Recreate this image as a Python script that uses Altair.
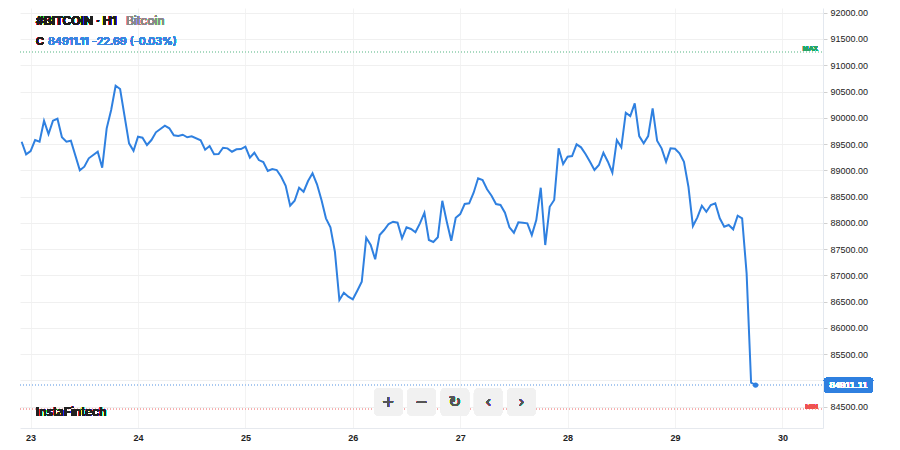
import altair as alt
import pandas as pd

# hours since Jan 23 00:00 (hourly closes) and prices
hours = [-2, -1, 0, 1, 2, 3, 4, 5, 6, 7, 8, 9, 11, 12, 13, 15, 16, 17, 18, 19, 20,
         22, 23, 24, 25, 26, 27, 28, 30, 31, 32, 33, 34, 35, 36, 38, 39, 40, 41,
         42, 43, 44, 45, 46, 47, 48, 49, 50, 51, 52, 53, 54, 55, 56, 57, 58, 59,
         60, 61, 62, 63, 64, 65, 66, 67, 68, 69, 70, 71, 72, 73, 74, 75, 76, 77,
         78, 79, 80, 81, 82, 83, 84, 85, 86, 87, 88, 89, 90, 91, 92, 93, 94, 95,
         96, 97, 98, 99, 100, 101, 102, 103, 104, 105, 106, 107, 108, 109, 110,
         111, 112, 113, 114, 115, 116, 117, 118, 119, 120, 121, 122, 123, 124,
         125, 126, 127, 128, 129, 130, 131, 132, 133, 134, 135, 136, 137, 138,
         139, 140, 141, 142, 143, 144, 145, 146, 147, 148, 149, 150, 151, 152,
         153, 154, 155, 156, 157, 158, 159, 160, 161, 162]
prices = [89544, 89304, 89367, 89576, 89544, 89944, 89690, 89944, 89982, 89628, 89544, 89563,
          88999, 89068, 89228, 89353, 89049, 89799, 90147, 90610, 90547,
          89513, 89372, 89639, 89620, 89481, 89576, 89723, 89848, 89799, 89666, 89652,
          89677, 89628, 89647, 89570, 89392, 89462, 89304,
          89310, 89430, 89418, 89353, 89399, 89405, 89449, 89239, 89334, 89195, 89157,
          88986, 89024, 89005, 88877, 88706, 88325, 88420,
          88668, 88592, 88796, 88942, 88733, 88434, 88085, 87914, 87449, 86530, 86669,
          86593, 86543, 86707, 86878, 87716, 87577, 87305,
          87767, 87863, 87977, 88021, 88002, 87705, 87914, 87882, 87819, 87990, 88192,
          87672, 87634, 87724, 88420, 88021, 87659, 88097,
          88167, 88358, 88371, 88573, 88847, 88815, 88638, 88516, 88358, 88339, 88192,
          87914, 87811, 88009, 88002,
          87990, 87767, 88053, 88668, 87577, 88306, 88434, 89418, 89119, 89258, 89272,
          89494, 89437, 89310,
          89163, 89005, 89100, 89334, 89163, 88954, 89576, 89437, 90096, 90033, 90275,
          89652, 89513, 89652,
          90180, 89563, 89418, 89163, 89418, 89411, 89323, 89163, 88687, 87939, 88104,
          88325, 88211, 88339,
          88371, 88085, 87925, 87958, 87876, 88135, 88085, 87038, 84955, 84911.11]

day_ticks = [0, 24, 48, 72, 96, 120, 144, 168]
price_ticks = [84500, 85000, 85500, 86000, 86500, 87000, 87500, 88000,
               88500, 89000, 89500, 90000, 90500, 91000, 91500, 92000]
last_price = 84911.11
change_text = "84911.11  -22.69 (-0.03%)"
max_level = 91255
min_level = 84455
buttons = ["+", "−", "↻", "‹", "›"]

W, H = 803, 420
LINE_BLUE = "#2f80e0"
x_scale = alt.Scale(domain=[-2.37, 177.07], nice=False, zero=False)
y_scale = alt.Scale(domain=[84093, 92090], nice=False, zero=False)

df = pd.DataFrame({"h": hours, "price": prices})
base = alt.Chart(df)

line = base.mark_line(color=LINE_BLUE, strokeWidth=2, clip=True).encode(
    x=alt.X("h:Q", scale=x_scale, title=None,
            axis=alt.Axis(values=day_ticks, tickCount=len(day_ticks),
                          labelExpr="format(23 + datum.value/24, 'd')",
                          grid=True, gridColor="#f3f3f3", domainColor="#e6e9ee",
                          tickSize=0, labelFontSize=9, labelFontWeight="bold",
                          labelColor="#222", labelPadding=5, labelOverlap=False,
                          labelFont="Liberation Sans Narrow, Liberation Sans")),
    y=alt.Y("price:Q", scale=y_scale, title=None,
            axis=alt.Axis(orient="right", values=price_ticks, tickCount=len(price_ticks),
                          format=".2f", grid=True,
                          gridColor="#f0f0f0", domainColor="#e3e8ef", tickColor="#d0d0d0",
                          tickSize=4, labelFontSize=9, labelColor="#222", labelPadding=3,
                          labelOverlap=False, labelFlush=False, labelBound=False,
                          labelFont="Liberation Sans")),
)

last_df = df[df["h"] == max(hours)]
dot = alt.Chart(last_df).mark_circle(size=28, color=LINE_BLUE, opacity=1).encode(
    x=alt.X("h:Q", scale=x_scale), y=alt.Y("price:Q", scale=y_scale))

def hrule(level, color):
    return alt.Chart(df).mark_rule(color=color, strokeWidth=1, strokeDash=[1, 2]).encode(
        x=alt.value(0), x2=alt.value(W), y=alt.datum(level))

max_rule = hrule(max_level, "#a8d8bf")
min_rule = hrule(min_level, "#f5b0b0")
last_rule = hrule(last_price, "#a9c8f0")

def text(x, y, s, size, fill, weight="normal", align="left", font="Inter", baseline="middle", dy=0):
    return alt.Chart(df).mark_text(align=align, baseline=baseline, fontSize=size,
                                   fill=fill, strokeWidth=0, fontWeight=weight,
                                   font=font, dy=dy).encode(x=x, y=y, text=alt.value(s))

max_txt = text(alt.value(798), alt.datum(max_level), "MAX", 7, "#27a567",
               align="right", font="Liberation Sans", baseline="bottom")
min_txt = text(alt.value(798), alt.datum(min_level), "MIN", 7, "#ef5350",
               align="right", font="Liberation Sans", dy=-2)

price_box = alt.Chart(df).mark_rect(color=LINE_BLUE, cornerRadius=3, clip=False).encode(
    x=alt.value(804), x2=alt.value(853),
    y=alt.datum(last_price + 140), y2=alt.datum(last_price - 140))
price_lbl = text(alt.value(828.5), alt.datum(last_price), f"{last_price:.2f}", 9.5, "white",
                 align="center", font="Liberation Sans")

title1 = text(alt.value(16), alt.value(12.5), "#BITCOIN · H1", 12, "#1e1e1e", weight=600)
title2 = text(alt.value(106), alt.value(12.5), "Bitcoin", 12, "#8a8a8a")
c_txt = text(alt.value(16), alt.value(33.5), "C", 11, "#1e1e1e", weight=500)
chg_txt = text(alt.value(28), alt.value(33.5), change_text, 11, "#3a86e0")
brand = text(alt.value(16), alt.value(403.5), "InstaFintech", 12, "#222", weight=500)

btn_layers = []
for i, sym in enumerate(buttons):
    x0 = 354 + 33.3 * i
    btn_layers.append(alt.Chart(df).mark_rect(color="#f1f1f1", cornerRadius=5).encode(
        x=alt.value(x0), x2=alt.value(x0 + 28.7), y=alt.value(380), y2=alt.value(408)))
    btn_layers.append(text(alt.value(x0 + 14.3), alt.value(394), sym, 15, "#555",
                           align="center", font="DejaVu Sans"))

chart = alt.layer(
    line, max_rule, min_rule, last_rule, dot, max_txt, min_txt,
    *btn_layers, brand, title1, title2, c_txt, chg_txt, price_box, price_lbl,
).properties(
    width=W, height=H,
    autosize=alt.AutoSizeParams(type="none"),
    padding={"left": 12, "top": 0, "right": 60, "bottom": 14},
    background="white",
).configure_view(stroke=None).configure_axis(
    labelOverlap=False, labelFlush=False, labelBound=False
)

chart.save("out.html", embed_options={"renderer": "svg", "actions": False})
